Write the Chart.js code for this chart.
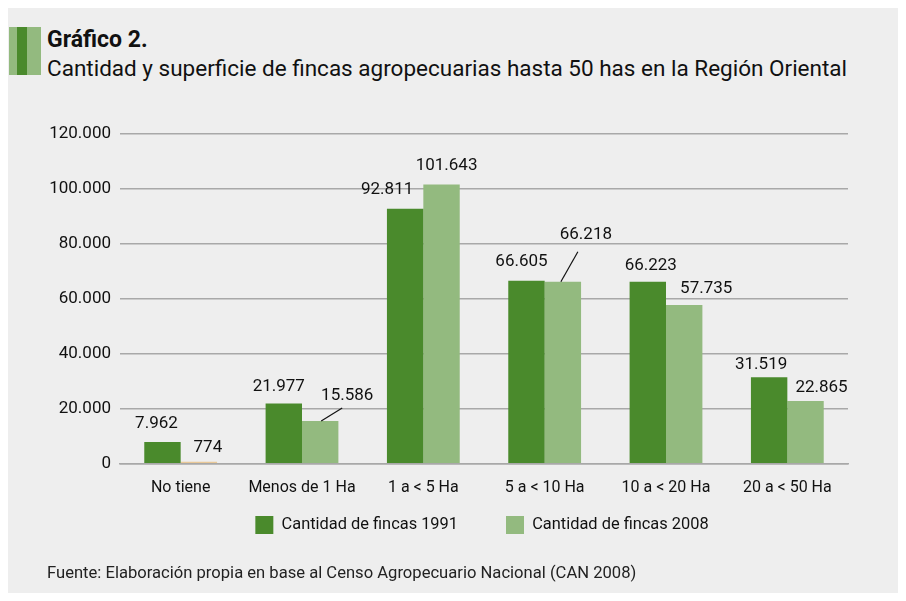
<!DOCTYPE html>
<html>
<head>
<meta charset="utf-8">
<script src="https://cdn.jsdelivr.net/npm/chart.js@4"></script>
<style>
  body { margin: 0; background: #fff; font-family: Roboto, sans-serif; }
  #panel { position: absolute; left: 8px; top: 8px; width: 890px; height: 585px; background: #eeeeee; }
  #deco { position: absolute; left: 1px; top: 19px; width: 32px; height: 48px;
    background: linear-gradient(to right, #93ba7f 0 8px, #4a8a2c 8px 18px, #93ba7f 18px 32px); }
  #title { position: absolute; left: 39px; top: 17px; color: #111; font-size: 22.5px; line-height: 28px; }
  #title b { font-weight: 700; font-size: 23px; }
  #footer { position: absolute; left: 39px; top: 555px; font-size: 16.6px; color: #222; }
  #wrap { position: absolute; left: 0; top: 100px; width: 890px; height: 483px; }
</style>
</head>
<body>
<div id="panel">
  <div id="deco"></div>
  <div id="title"><b>Gráfico 2.</b><br>Cantidad y superficie de fincas agropecuarias hasta 50 has en la Región Oriental</div>
  <div id="wrap"><canvas id="myChart"></canvas></div>
  <div id="footer">Fuente: Elaboración propia en base al Censo Agropecuario Nacional (CAN 2008)</div>
</div>
<script>
const categorias = ['No tiene', 'Menos de 1 Ha', '1 a < 5 Ha', '5 a < 10 Ha', '10 a < 20 Ha', '20 a < 50 Ha'];
const fincas1991 = [7962, 21977, 92811, 66605, 66223, 31519];
const fincas2008 = [774, 15586, 101643, 66218, 57735, 22865];
const ticksY = [0, 20000, 40000, 60000, 80000, 100000, 120000];

const oscuro = '#4a8a2c';
const claro = '#93ba7f';
const colores = [oscuro, claro];

function fmt(n) {
    return n.toString().replace(/\B(?=(\d{3})+(?!\d))/g, '.');
}

// desplazamiento de cada etiqueta respecto al centro superior de la barra
const offsets = [
    [[-6, -18], [-5, -17], [-18, -19], [-5, -19], [3, -16], [-8, -12]],
    [[9, -14], [27, -25], [5, -19], [23, -47], [22, -16], [16, -13]]
];
const leaders = { '1-1': [[1, 0], [22, -13]], '1-3': [[-2, 0], [15, -30]] };

const etiquetas = {
    id: 'etiquetas',
    afterLayout(chart) {
        // acomodar la leyenda como en el original
        chart.legend.top -= 37;
        chart.legend.bottom -= 37;
        chart.legend.left += 54;
        chart.legend.right += 54;
    },
    afterDatasetsDraw(chart) {
        const ctx = chart.ctx;
        ctx.save();
        ctx.font = '17px Roboto';
        ctx.fillStyle = '#111';
        ctx.textAlign = 'center';
        ctx.textBaseline = 'middle';
        chart.data.datasets.forEach((ds, di) => {
            chart.getDatasetMeta(di).data.forEach((bar, i) => {
                const off = offsets[di][i];
                ctx.fillText(fmt(ds.data[i]), bar.x + off[0], bar.y + off[1]);
                const ln = leaders[di + '-' + i];
                if (ln) {
                    ctx.beginPath();
                    ctx.strokeStyle = '#111';
                    ctx.lineWidth = 1.2;
                    ctx.moveTo(bar.x + ln[0][0], bar.y + ln[0][1]);
                    ctx.lineTo(bar.x + ln[1][0], bar.y + ln[1][1]);
                    ctx.stroke();
                }
            });
        });
        ctx.restore();
    }
};

Chart.defaults.font.family = 'Roboto';
Chart.defaults.color = '#222';

let myChart = new Chart(document.getElementById('myChart'), {
    type: 'bar',
    data: {
        labels: categorias,
        datasets: [{
            label: 'Cantidad de fincas 1991',
            data: fincas1991,
            backgroundColor: oscuro,
            categoryPercentage: 0.6,
            barPercentage: 1
        }, {
            label: 'Cantidad de fincas 2008',
            data: fincas2008,
            backgroundColor: (c) => c.dataIndex === 0 ? '#e9c897' : claro,
            categoryPercentage: 0.6,
            barPercentage: 1
        }]
    },
    options: {
        responsive: true,
        maintainAspectRatio: false,
        animation: false,
        layout: { padding: { left: 0, right: 50, top: 26, bottom: 10 } },
        plugins: {
            legend: {
                position: 'bottom',
                labels: {
                    boxWidth: 18, boxHeight: 18, padding: 48, font: { size: 16.4 }, color: '#111',
                    generateLabels: (chart) => {
                        const items = Chart.defaults.plugins.legend.labels.generateLabels(chart);
                        items.forEach((it, i) => { it.fillStyle = colores[i]; it.strokeStyle = colores[i]; it.lineWidth = 0; });
                        return items;
                    }
                }
            },
            tooltip: { enabled: false }
        },
        scales: {
            x: {
                grid: { display: false },
                border: { color: '#a8a8a8', width: 1.5 },
                ticks: { font: { size: 16 }, color: '#111', padding: 7 }
            },
            y: {
                min: 0,
                max: 120000,
                afterBuildTicks: (s) => { s.ticks = ticksY.map(v => ({ value: v })); },
                afterFit: (s) => { s.width = 112; },
                grid: { color: '#a8a8a8', lineWidth: 1.5, drawTicks: false },
                border: { display: false },
                ticks: { font: { size: 17 }, color: '#111', padding: 9, callback: (v) => fmt(v) }
            }
        }
    },
    plugins: [etiquetas]
});
</script>
</body>
</html>
